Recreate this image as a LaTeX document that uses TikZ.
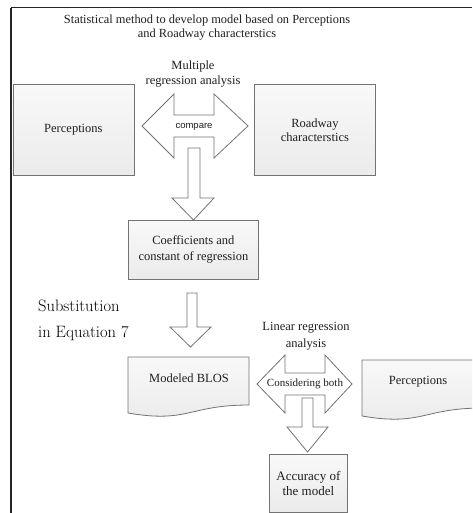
\documentclass[tikz,border=0pt]{standalone}
\usepackage{fontspec}
\newfontfamily\tnr{Liberation Serif}
\newfontfamily\arl{Liberation Sans}
\begin{document}
\begin{tikzpicture}[x=1pt,y=-1pt,
  box/.style={draw=black!55, line width=0.8pt, top color=gray!5, bottom color=gray!16, inner sep=0pt},
  blk/.style={draw=black!55, line width=0.8pt, fill=white},
  doc/.style={draw=black!55, line width=0.8pt, top color=gray!5, bottom color=gray!16},
  txt/.style={font=\tnr\fontsize{12.5}{15}\selectfont, text=black!88, align=center, inner sep=0pt}]
\useasboundingbox (0,0) rectangle (472,513);
\clip (0,0) rectangle (472,513);
\fill[white] (0,0) rectangle (472,513);

% frame
\draw[line width=1pt, black!85] (11,8) -- (472,8);
\draw[line width=1.8pt, black!85] (11,8) -- (11,513);

% title
\node[txt, font=\tnr\fontsize{12.4}{14}\selectfont] (title) at (207,28) {Statistical method to develop model based on Perceptions\\and Roadway characterstics};

% top row
\node[box, txt, minimum width=121pt, minimum height=91pt, anchor=north west] (perc1) at (12.5,84) {Perceptions};
\node[box, txt, minimum width=121pt, minimum height=91pt, anchor=north west, font=\tnr\fontsize{12.5}{14}\selectfont] (road) at (254,84) {Roadway\\characterstics};
\node[txt] (mra) at (193,74.5) {Multiple\\regression analysis};

% double arrow compare
\draw[blk] (142,126) -- (174,94) -- (174,115) -- (214,115) -- (214,94) -- (248,126)
  -- (214,158) -- (214,137) -- (174,137) -- (174,158) -- cycle;
\node[txt, font=\arl\fontsize{9.5}{11}\selectfont] (cmp) at (194,126.5) {compare};

% down arrow 1
\draw[blk] (188,148) -- (200,148) -- (200,198) -- (214,198) -- (193.5,220) -- (172,198) -- (188,198) -- cycle;

% coefficients
\node[box, txt, minimum width=130pt, minimum height=59pt, anchor=north west, font=\tnr\fontsize{12.5}{16}\selectfont] (coef) at (128,220) {Coefficients and\\constant of regression};

% down arrow 2
\draw[blk] (187,293) -- (197,293) -- (197,327) -- (211,327) -- (190.5,347) -- (170,327) -- (187,327) -- cycle;

% substitution
\node[inner sep=0pt, anchor=west, align=left, font=\fontsize{16.5}{26}\selectfont, text=black] (subst) at (38,320) {Substitution\\in Equation 7};

% modeled BLOS document
\draw[doc] (128,357) -- (249,357) -- (249,405) .. controls (188.5,405) and (188.5,423.4) .. (128,413) -- cycle;
\node[txt] (blos) at (189,378.5) {Modeled BLOS};

% perceptions document right
\draw[doc] (362,360) -- (483,360) -- (483,408) .. controls (422.5,408) and (422.5,426.4) .. (362,416) -- cycle;
\node[txt] (perc2) at (418,382) {Perceptions};

% linear regression label
\node[txt, font=\tnr\fontsize{12.5}{17}\selectfont] (lra) at (306,336.5) {Linear regression\\analysis};

% double arrow considering both
\draw[blk] (257,384) -- (285,355) -- (285,373) -- (325,373) -- (325,355) -- (352,384)
  -- (325,413) -- (325,395) -- (285,395) -- (285,413) -- cycle;
\node[txt, font=\tnr\fontsize{11}{13}\selectfont] (cons) at (305,384) {Considering both};

% down arrow 3
\draw[blk] (302,398) -- (313,398) -- (313,427) -- (328,427) -- (307.5,452) -- (287,427) -- (302,427) -- cycle;

% accuracy
\node[box, txt, minimum width=78pt, minimum height=58pt, anchor=north west, font=\tnr\fontsize{13}{15}\selectfont] (acc) at (269,454) {Accuracy of\\the model};
\end{tikzpicture}
\end{document}
